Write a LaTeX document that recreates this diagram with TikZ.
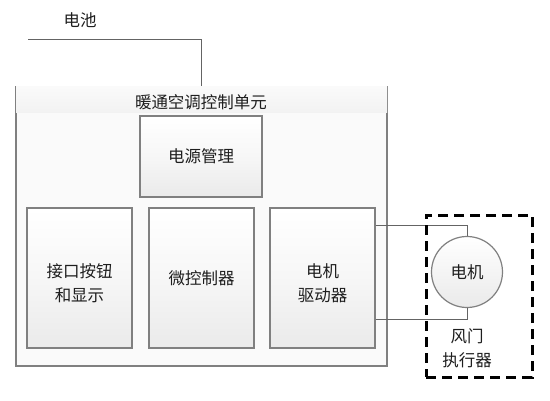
\documentclass[tikz,border=0pt]{standalone}
\usepackage{fontspec}
\setmainfont{Noto Sans CJK SC}
\definecolor{hvacline}{RGB}{128,128,128}
\definecolor{hvacwire}{RGB}{100,100,100}
\definecolor{hvactext}{RGB}{30,30,30}
\definecolor{hvacfill}{RGB}{250,250,250}
\definecolor{hvacshade}{RGB}{234,234,234}
\usetikzlibrary{calc}
\tikzset{
  blk/.style={rectangle,draw=hvacline,line width=1.4pt,top color=white,
              bottom color=hvacshade,middle color=white!60!hvacshade,text=hvactext,align=center,
              minimum width=105pt,minimum height=140pt,inner sep=0pt},
  wire/.style={draw=hvacwire,line width=1pt},
  txt/.style={text=hvactext,align=center,inner sep=0pt},
}

\begin{document}
\begin{tikzpicture}[x=1pt,y=1pt,font=\fontsize{16.5}{24}\selectfont]
    \useasboundingbox[fill=white] (0,0) rectangle (550,400);

    % control unit with title bar
    \node[rectangle,draw=hvacline,line width=1.4pt,fill=hvacfill,
          minimum width=371pt,minimum height=279pt] (unit) at (201.5,173.5) {};
    \fill[top color=hvacfill,bottom color=hvacshade!60]
         ($(unit.north west)+(0.7,-0.7)$) rectangle ($(unit.north east)+(-0.7,-26)$);
    \node[txt] (unittitle) at (201,298) {暖通空调控制单元};

    \node[blk,minimum width=122pt,minimum height=81pt] (pwr) at (201,243.5) {电源管理};
    \node[blk] (ui)  at (79.5,122)  {\mbox{}\\接口按钮\\和显示};
    \node[blk] (mcu) at (201.5,122) {微控制器};
    \node[blk] (drv) at (322.5,122) {\mbox{}\\电机\\驱动器};

    % battery feed
    \coordinate (batt) at (28,360);
    \node[txt] (battlbl) at (80,380) {电池};
    \draw[wire] (batt) -| (unit.north);

    % damper actuator
    \node[circle,draw=hvacline,line width=1.2pt,top color=white,bottom color=hvacshade,
          minimum size=71pt,inner sep=0pt,text=hvactext] (motor) at (467,128) {电机};
    \draw[wire] ($(drv.north east)+(0,-18)$) -| (motor.north);
    \draw[wire] ($(drv.south east)+(0,29)$) -| (motor.south);
    \node[txt] (actlbl) at (467,52) {风门\\执行器};
    \node[rectangle,draw=black,line width=3pt,dash pattern=on 10pt off 6pt,
          minimum width=106pt,minimum height=162pt] (act) at (479,104) {};
  \end{tikzpicture}
\end{document}
